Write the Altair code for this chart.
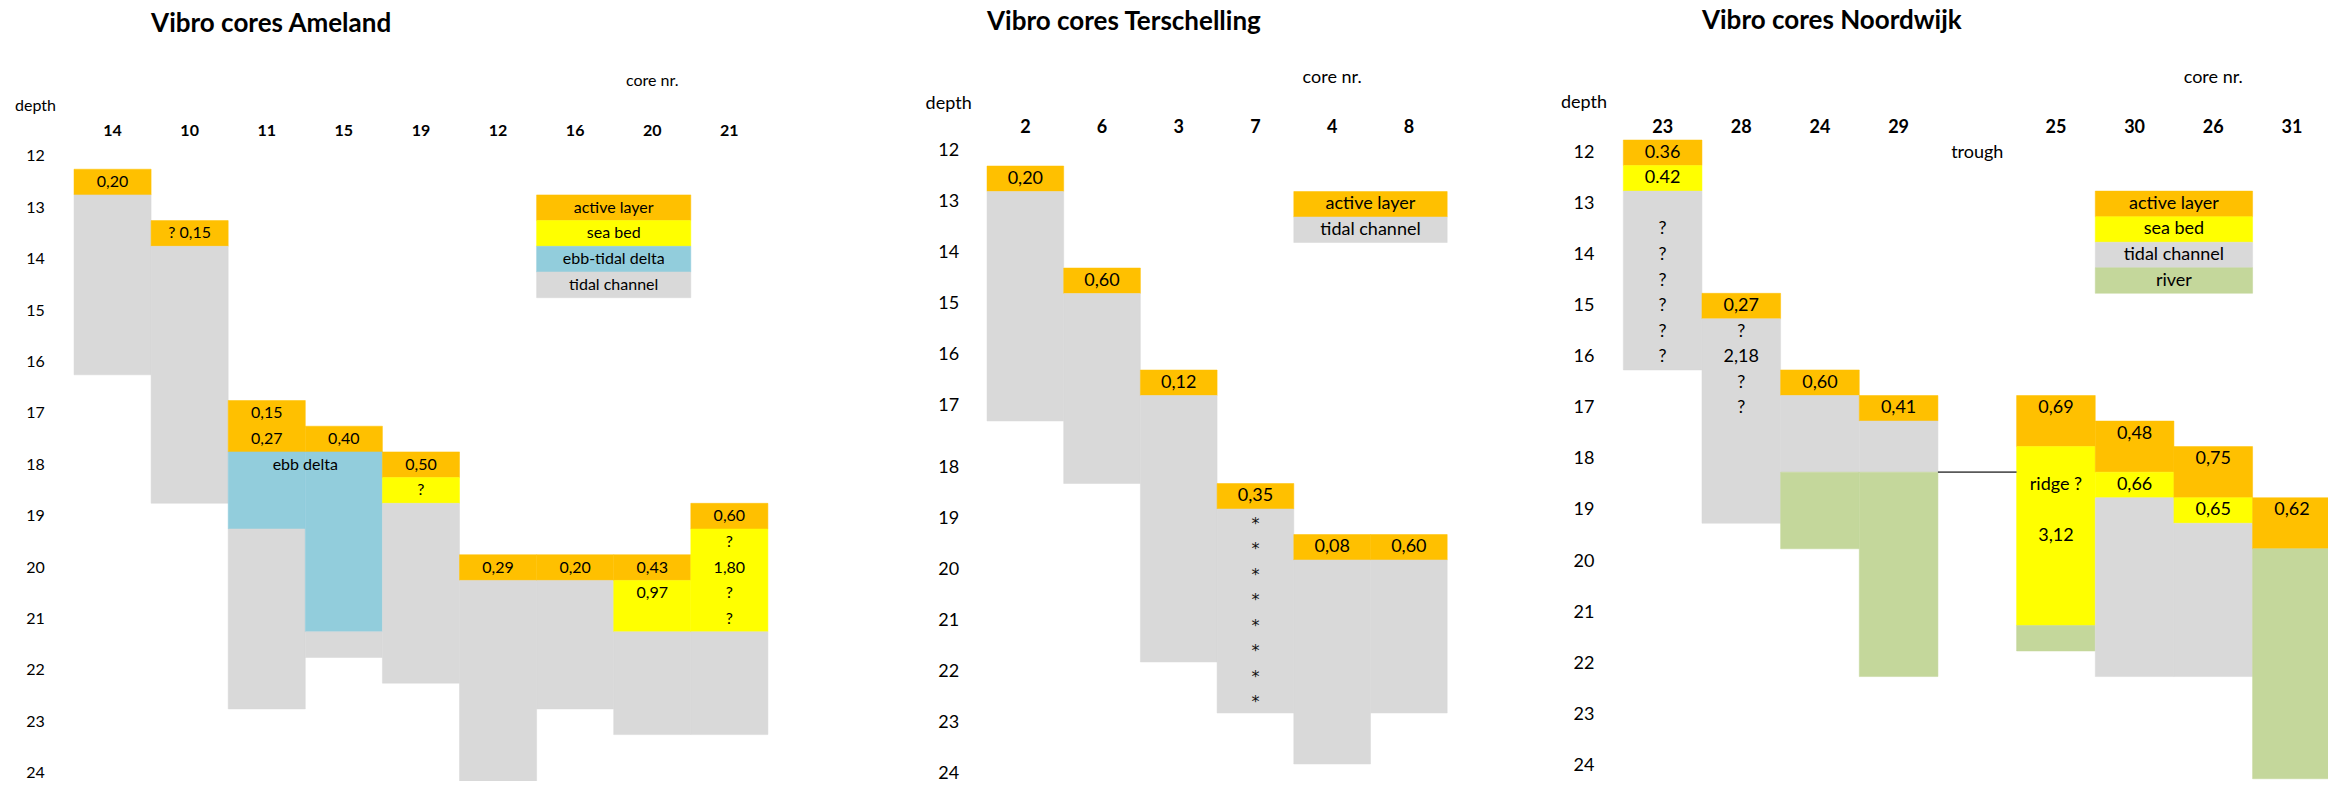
import altair as alt
import pandas as pd

FONT = "Lato"

COLORS = {
    "active layer": "#FFC000",
    "sea bed": "#FFFF00",
    "ebb-tidal delta": "#92CDDC",
    "tidal channel": "#D9D9D9",
    "river": "#C4D79B",
}

DEPTH_TICKS = list(range(12, 25))

# ---------------- Ameland ----------------
AME_TITLE = "Vibro cores Ameland"
AME_CORES = ["14", "10", "11", "15", "19", "12", "16", "20", "21"]
# core, first row depth, last row depth, unit
AME_UNITS = [
    ("14", 12.5, 12.5, "active layer"), ("14", 13.0, 16.0, "tidal channel"),
    ("10", 13.5, 13.5, "active layer"), ("10", 14.0, 18.5, "tidal channel"),
    ("11", 17.0, 17.5, "active layer"), ("11", 18.0, 19.0, "ebb-tidal delta"),
    ("11", 19.5, 22.5, "tidal channel"),
    ("15", 17.5, 17.5, "active layer"), ("15", 18.0, 21.0, "ebb-tidal delta"),
    ("15", 21.5, 21.5, "tidal channel"),
    ("19", 18.0, 18.0, "active layer"), ("19", 18.5, 18.5, "sea bed"),
    ("19", 19.0, 22.0, "tidal channel"),
    ("12", 20.0, 20.0, "active layer"), ("12", 20.5, 24.0, "tidal channel"),
    ("16", 20.0, 20.0, "active layer"), ("16", 20.5, 22.5, "tidal channel"),
    ("20", 20.0, 20.0, "active layer"), ("20", 20.5, 21.0, "sea bed"),
    ("20", 21.5, 23.0, "tidal channel"),
    ("21", 19.0, 19.0, "active layer"), ("21", 19.5, 21.0, "sea bed"),
    ("21", 21.5, 23.0, "tidal channel"),
]
AME_LABELS = [
    ("14", 12.5, "0,20"), ("10", 13.5, "? 0,15"), ("11", 17.0, "0,15"),
    ("11", 17.5, "0,27"), ("15", 17.5, "0,40"), ("19", 18.0, "0,50"),
    ("19", 18.5, "?"), ("12", 20.0, "0,29"), ("16", 20.0, "0,20"),
    ("20", 20.0, "0,43"), ("20", 20.5, "0,97"), ("21", 19.0, "0,60"),
    ("21", 19.5, "?"), ("21", 20.0, "1,80"), ("21", 20.5, "?"), ("21", 21.0, "?"),
]
AME_SPAN_LABELS = [("11", "15", 18.0, "ebb delta")]
AME_LEGEND = ["active layer", "sea bed", "ebb-tidal delta", "tidal channel"]
AME_LEGEND_COLS = ("16", "20")
AME_LEGEND_TOP = 13.0

# ---------------- Terschelling ----------------
TER_TITLE = "Vibro cores Terschelling"
TER_CORES = ["2", "6", "3", "7", "4", "8"]
TER_UNITS = [
    ("2", 12.5, 12.5, "active layer"), ("2", 13.0, 17.0, "tidal channel"),
    ("6", 14.5, 14.5, "active layer"), ("6", 15.0, 18.0, "tidal channel"),
    ("3", 16.5, 16.5, "active layer"), ("3", 17.0, 21.5, "tidal channel"),
    ("7", 18.5, 18.5, "active layer"), ("7", 19.0, 22.5, "tidal channel"),
    ("4", 19.5, 19.5, "active layer"), ("4", 20.0, 23.5, "tidal channel"),
    ("8", 19.5, 19.5, "active layer"), ("8", 20.0, 22.5, "tidal channel"),
]
TER_LABELS = [
    ("2", 12.5, "0,20"), ("6", 14.5, "0,60"), ("3", 16.5, "0,12"),
    ("7", 18.5, "0,35"), ("4", 19.5, "0,08"), ("8", 19.5, "0,60"),
    ("7", 19.0, "*"), ("7", 19.5, "*"), ("7", 20.0, "*"), ("7", 20.5, "*"),
    ("7", 21.0, "*"), ("7", 21.5, "*"), ("7", 22.0, "*"), ("7", 22.5, "*"),
]
TER_LEGEND = ["active layer", "tidal channel"]
TER_LEGEND_COLS = ("4", "8")
TER_LEGEND_TOP = 13.0

# ---------------- Noordwijk ----------------
NOO_TITLE = "Vibro cores Noordwijk"
NOO_CORES = ["23", "28", "24", "29", "trough", "25", "30", "26", "31"]
NOO_HEADERS = ["23", "28", "24", "29", "", "25", "30", "26", "31"]
NOO_UNITS = [
    ("23", 12.0, 12.0, "active layer"), ("23", 12.5, 12.5, "sea bed"),
    ("23", 13.0, 16.0, "tidal channel"),
    ("28", 15.0, 15.0, "active layer"), ("28", 15.5, 19.0, "tidal channel"),
    ("24", 16.5, 16.5, "active layer"), ("24", 17.0, 18.0, "tidal channel"),
    ("24", 18.5, 19.5, "river"),
    ("29", 17.0, 17.0, "active layer"), ("29", 17.5, 18.0, "tidal channel"),
    ("29", 18.5, 22.0, "river"),
    ("25", 17.0, 17.5, "active layer"), ("25", 18.0, 21.0, "sea bed"),
    ("25", 21.5, 21.5, "river"),
    ("30", 17.5, 18.0, "active layer"), ("30", 18.5, 18.5, "sea bed"),
    ("30", 19.0, 22.0, "tidal channel"),
    ("26", 18.0, 18.5, "active layer"), ("26", 19.0, 19.0, "sea bed"),
    ("26", 19.5, 22.0, "tidal channel"),
    ("31", 19.0, 19.5, "active layer"), ("31", 20.0, 24.0, "river"),
]
NOO_LABELS = [
    ("23", 12.0, "0.36"), ("23", 12.5, "0.42"),
    ("23", 13.5, "?"), ("23", 14.0, "?"), ("23", 14.5, "?"),
    ("23", 15.0, "?"), ("23", 15.5, "?"), ("23", 16.0, "?"),
    ("28", 15.0, "0,27"), ("28", 15.5, "?"), ("28", 16.0, "2,18"),
    ("28", 16.5, "?"), ("28", 17.0, "?"),
    ("24", 16.5, "0,60"), ("29", 17.0, "0,41"), ("trough", 12.0, "trough"),
    ("25", 17.0, "0,69"), ("25", 18.5, "ridge ?"), ("25", 19.5, "3,12"),
    ("30", 17.5, "0,48"), ("30", 18.5, "0,66"),
    ("26", 18.0, "0,75"), ("26", 19.0, "0,65"), ("31", 19.0, "0,62"),
]
NOO_LEGEND = ["active layer", "sea bed", "tidal channel", "river"]
NOO_LEGEND_COLS = ("30", "26")
NOO_LEGEND_TOP = 13.0
NOO_TROUGH_LINE = ("trough", 18.0)  # line under the row at depth 18

# ---------------- layout constants (scale set-up) ----------------
TITLE_D, CORE_NR_D, DEPTH_WORD_D, HEADER_D = 9.43, 10.53, 11.03, 11.51
H = 770
PAGE_TOP, PAGE_BOTTOM = 8, 8 + H


def lin_domain(y_row_top, ppm):
    return [11.75 - (y_row_top - PAGE_TOP) / ppm, 11.75 + (PAGE_BOTTOM - y_row_top) / ppm], [0, H]


def build_panel(cores, headers, units, labels, spans, legend, legend_cols, legend_top,
                title, title_col, origin_px, col_px, left_px, right_px, ydom, yrng, fs,
                line=None, tick_shift=0.0):
    idx = {c: i for i, c in enumerate(cores)}
    width = right_px - left_px
    xs = alt.Scale(domain=[(left_px - origin_px) / col_px, (right_px - origin_px) / col_px],
                   nice=False, zero=False)
    ys = alt.Scale(domain=ydom, range=yrng, nice=False, zero=False)
    cs = alt.Scale(domain=list(COLORS), range=list(COLORS.values()))

    rows = [dict(x=idx[c], x2=idx[c] + 1, y=a - 0.25, y2=b + 0.25, unit=u) for c, a, b, u in units]
    l0, l1 = idx[legend_cols[0]], idx[legend_cols[1]] + 1
    for i, u in enumerate(legend):
        d = legend_top + 0.5 * i
        rows.append(dict(x=l0, x2=l1, y=d - 0.25, y2=d + 0.25, unit=u))
    cells = pd.DataFrame(rows)

    trows = [dict(x=idx[c] + 0.5, y=d, text=t) for c, d, t in labels]
    for c0, c1, d, t in spans:
        trows.append(dict(x=(idx[c0] + idx[c1] + 1) / 2, y=d, text=t))
    for i, u in enumerate(legend):
        trows.append(dict(x=(l0 + l1) / 2, y=legend_top + 0.5 * i, text=u))
    for dep in DEPTH_TICKS:
        trows.append(dict(x=-0.5, y=dep + tick_shift, text=str(dep)))
    trows.append(dict(x=-0.5, y=DEPTH_WORD_D, text="depth"))
    trows.append(dict(x=len(cores) - 1.5, y=CORE_NR_D, text="core nr."))
    texts = pd.DataFrame(trows)

    heads = pd.DataFrame([dict(x=i + 0.5, y=HEADER_D, text=h) for i, h in enumerate(headers) if h])
    ttl = pd.DataFrame([dict(x=idx[title_col], y=TITLE_D, text=title)])

    X = alt.X("x:Q", scale=xs, axis=None)
    Y = alt.Y("y:Q", scale=ys, axis=None)

    rect = alt.Chart(cells).mark_rect(clip=True, strokeWidth=0.5).encode(
        x=X, x2="x2:Q", y=Y, y2="y2:Q",
        color=alt.Color("unit:N", scale=cs, legend=None),
        stroke=alt.Stroke("unit:N", scale=cs, legend=None),
    )
    txt = alt.Chart(texts).transform_filter(alt.datum.text != "*").mark_text(
        font=FONT, fontSize=fs, baseline="middle", align="center", color="black", clip=True
    ).encode(x=X, y=Y, text="text:N")
    stars = alt.Chart(texts).transform_filter(alt.datum.text == "*").mark_text(
        font="DejaVu Sans", fontSize=16, baseline="alphabetic", align="center",
        color="#111111", dy=7
    ).encode(x=X, y=Y, text="text:N")
    hd = alt.Chart(heads).mark_text(font=FONT, fontSize=fs, fontWeight="bold", baseline="middle",
                                    align="center", color="black").encode(x=X, y=Y, text="text:N")
    tt = alt.Chart(ttl).mark_text(font=FONT, fontSize=26, fontWeight="bold", baseline="middle",
                                  align="left", color="black").encode(x=X, y=Y, text="text:N")
    layers = [rect, txt, stars, hd, tt]
    if line is not None:
        ldf = pd.DataFrame([dict(x=idx[line[0]], x2=idx[line[0]] + 1, y=line[1] + 0.25)])
        layers.append(alt.Chart(ldf).mark_rule(color="#595959", strokeWidth=1.6).encode(
            x=X, x2="x2:Q", y=Y))
    return alt.layer(*layers).properties(width=width, height=H)


ame_ydom, ame_yrng = lin_domain(140.5, 51.4)
ter_ydom = [11.75 - (137.5 - PAGE_TOP) / 51.0, 17.25, 17.75, 17.75 + (PAGE_BOTTOM - 455) / 51.0]
ter_yrng = [0, 418 - PAGE_TOP, 455 - PAGE_TOP, H]
noo_ydom, noo_yrng = lin_domain(137.0, 51.1)

ame = build_panel(AME_CORES, AME_CORES, AME_UNITS, AME_LABELS, AME_SPAN_LABELS, AME_LEGEND,
                  AME_LEGEND_COLS, AME_LEGEND_TOP, AME_TITLE, "10",
                  74.0, 77.1, 8, 880, ame_ydom, ame_yrng, 16)
ter = build_panel(TER_CORES, TER_CORES, TER_UNITS, TER_LABELS, [], TER_LEGEND,
                  TER_LEGEND_COLS, TER_LEGEND_TOP, TER_TITLE, "2",
                  987.0, 76.7, 880, 1500, ter_ydom, ter_yrng, 18, tick_shift=-0.05)
noo = build_panel(NOO_CORES, NOO_HEADERS, NOO_UNITS, NOO_LABELS, [], NOO_LEGEND,
                  NOO_LEGEND_COLS, NOO_LEGEND_TOP, NOO_TITLE, "28",
                  1623.3, 78.66, 1500, 2328, noo_ydom, noo_yrng, 18, line=NOO_TROUGH_LINE)

chart = alt.hconcat(ame, ter, noo, spacing=0, bounds="flush").properties(
    padding=0
).configure_view(stroke=None)

chart.save("out.html", embed_options={"renderer": "svg", "actions": False})
